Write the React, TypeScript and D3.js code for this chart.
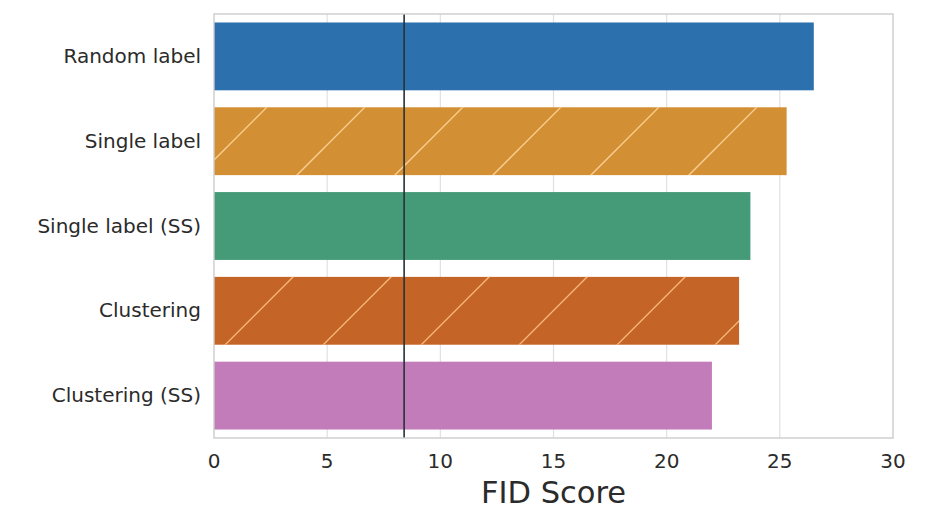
import React from 'react';
import * as d3 from 'd3';

const categories = ['Random label', 'Single label', 'Single label (SS)', 'Clustering', 'Clustering (SS)'];
const fidScores = [26.5, 25.3, 23.7, 23.2, 22.0];
const barColors = ['#2c70ad', '#d38f34', '#459b78', '#c56427', '#c17cb9'];
const hatched = [false, true, false, true, false];
const hatchColors = ['', '#fbcf92', '', '#f8b87c', ''];
const xTicks = [0, 5, 10, 15, 20, 25, 30];
const referenceLine = 8.4;

const W = 938;
const H = 514;
const margin = { top: 14, right: 45, bottom: 76, left: 214 };

export default function App() {
  const innerW = W - margin.left - margin.right;
  const innerH = H - margin.top - margin.bottom;

  const x = d3.scaleLinear().domain([0, 30]).range([margin.left, margin.left + innerW]);
  const y = d3
    .scaleBand<string>()
    .domain(categories)
    .range([margin.top, margin.top + innerH])
    .paddingInner(0.2)
    .paddingOuter(0.1);

  const font = '"DejaVu Sans", sans-serif';
  const textColor = '#2b2b2b';

  return (
    <svg
      width={W}
      height={H}
      style={{ position: 'absolute', left: 0, top: 0, background: '#fff' }}
      fontFamily={font}
    >
      <defs>
        {categories.map((c, i) =>
          hatched[i] ? (
            <pattern
              key={c}
              id={`hatch-${i}`}
              patternUnits="userSpaceOnUse"
              width={98}
              height={98}
            >
              <line x1={-10} y1={90} x2={90} y2={-10} stroke={hatchColors[i]} strokeWidth={1.3} />
              <line x1={70} y1={108} x2={108} y2={70} stroke={hatchColors[i]} strokeWidth={1.3} />
            </pattern>
          ) : null
        )}
      </defs>

      {/* grid */}
      {xTicks.slice(1, -1).map(t => (
        <line
          key={t}
          x1={x(t)}
          x2={x(t)}
          y1={margin.top}
          y2={margin.top + innerH}
          stroke="#e0e0e0"
          strokeWidth={1.2}
        />
      ))}

      {/* bars */}
      {categories.map((c, i) => (
        <g key={c}>
          <rect
            x={x(0)}
            y={y(c)}
            width={x(fidScores[i]) - x(0)}
            height={y.bandwidth()}
            fill={barColors[i]}
          />
          {hatched[i] && (
            <rect
              x={x(0)}
              y={y(c)}
              width={x(fidScores[i]) - x(0)}
              height={y.bandwidth()}
              fill={`url(#hatch-${i})`}
            />
          )}
        </g>
      ))}

      {/* reference line */}
      <line
        x1={x(referenceLine)}
        x2={x(referenceLine)}
        y1={margin.top}
        y2={margin.top + innerH}
        stroke="#263238"
        strokeWidth={1.6}
      />

      {/* frame */}
      <rect
        x={margin.left}
        y={margin.top}
        width={innerW}
        height={innerH}
        fill="none"
        stroke="#cccccc"
        strokeWidth={1.4}
      />

      {/* y labels */}
      {categories.map(c => (
        <text
          key={c}
          x={margin.left - 13}
          y={(y(c) ?? 0) + y.bandwidth() / 2}
          dy="0.33em"
          textAnchor="end"
          fontSize={20}
          fill={textColor}
        >
          {c}
        </text>
      ))}

      {/* x ticks */}
      {xTicks.map(t => (
        <text
          key={t}
          x={x(t)}
          y={margin.top + innerH + 30}
          textAnchor="middle"
          fontSize={20}
          fill={textColor}
        >
          {t}
        </text>
      ))}

      <text
        x={margin.left + innerW / 2}
        y={503}
        textAnchor="middle"
        fontSize={30.5}
        fill={textColor}
      >
        FID Score
      </text>
    </svg>
  );
}
